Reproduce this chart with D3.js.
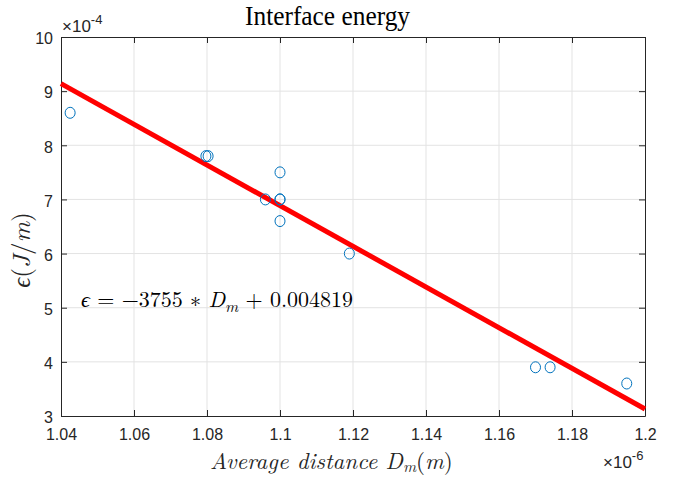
<!DOCTYPE html>
<html>
<head>
<meta charset="utf-8">
<script src="https://cdn.jsdelivr.net/npm/d3@7"></script>
<style>
  body { margin: 0; background: #fff; }
  svg { display: block; }
</style>
</head>
<body>
<script>
// data (x in 1e-6 m, y in 1e-4 J/m)
const distance = [1.0425, 1.0797, 1.0803, 1.1, 1.096, 1.1, 1.1, 1.1, 1.119, 1.17, 1.174, 1.195];
const energy   = [8.6,    7.8,    7.8,    7.5, 7.0,   7.0,  7.0, 6.6, 6.0,   3.9,  3.9,   3.6];
const xTicks = [1.04, 1.06, 1.08, 1.1, 1.12, 1.14, 1.16, 1.18, 1.2];
const yTicks = [3, 4, 5, 6, 7, 8, 9, 10];
const slope = -3755, intercept = 0.004819;
const fitX = [1.04, 1.2];

const width = 683, height = 477;
const margin = { left: 61, right: 38, top: 37, bottom: 61 };

const svg = d3.select("body").append("svg")
    .attr("width", width)
    .attr("height", height);

const x = d3.scaleLinear().domain([1.04, 1.2]).range([margin.left, width - margin.right]);
const y = d3.scaleLinear().domain([3, 10]).range([height - margin.bottom, margin.top]);

// grid
svg.append("g").selectAll("line").data(xTicks.slice(1, -1)).join("line")
    .attr("x1", d => x(d)).attr("x2", d => x(d))
    .attr("y1", y(3)).attr("y2", y(10))
    .attr("stroke", "#e3e3e3").attr("stroke-width", 1);
svg.append("g").selectAll("line").data(yTicks.slice(1, -1)).join("line")
    .attr("y1", d => y(d)).attr("y2", d => y(d))
    .attr("x1", x(1.04)).attr("x2", x(1.2))
    .attr("stroke", "#e3e3e3").attr("stroke-width", 1);

// axes with inward ticks
const tickFont = "Arial, 'Liberation Sans', sans-serif";
function styleAxis(g) {
    g.select(".domain").attr("stroke", "#262626");
    g.selectAll(".tick line").attr("stroke", "#262626");
    g.selectAll(".tick text").attr("fill", "#262626")
        .style("font-family", tickFont).style("font-size", "16px");
}
svg.append("g").attr("transform", `translate(0,${y(3)})`)
    .call(d3.axisBottom(x).tickValues(xTicks).tickFormat(d3.format("")).tickSizeInner(-6).tickSizeOuter(0).tickPadding(13))
    .call(styleAxis);
svg.append("g").attr("transform", `translate(0,${y(10)})`)
    .call(d3.axisTop(x).tickValues(xTicks).tickFormat("").tickSizeInner(-6).tickSizeOuter(0))
    .call(styleAxis);
svg.append("g").attr("transform", `translate(${x(1.04)},0)`)
    .call(d3.axisLeft(y).tickValues(yTicks).tickFormat(d3.format("")).tickSizeInner(-6).tickSizeOuter(0).tickPadding(8))
    .call(styleAxis)
    .call(g => g.selectAll(".tick text").attr("dy", "0.42em"));
svg.append("g").attr("transform", `translate(${x(1.2)},0)`)
    .call(d3.axisRight(y).tickValues(yTicks).tickFormat("").tickSizeInner(-6).tickSizeOuter(0))
    .call(styleAxis);

// fitted line
const fitLine = d3.line().x(d => x(d)).y(d => y((slope * d * 1e-6 + intercept) * 1e4));
svg.append("path").datum(fitX)
    .attr("d", fitLine)
    .attr("fill", "none").attr("stroke", "#ff0000").attr("stroke-width", 5);

// points
svg.append("g").selectAll("ellipse").data(distance).join("ellipse")
    .attr("cx", d => x(d))
    .attr("cy", (d, i) => y(energy[i]))
    .attr("rx", 5).attr("ry", 5.5)
    .attr("fill", "none").attr("stroke", "#0072bd").attr("stroke-width", 1);

// exponent labels
const expo = (tx, ty, p) => {
    const t = svg.append("text").attr("x", tx).attr("y", ty)
        .attr("fill", "#262626").style("font-family", tickFont).style("font-size", "17px");
    t.append("tspan").text("\u00d710");
    t.append("tspan").attr("dy", -8).style("font-size", "13px").text(p);
};
expo(62, 32, "-4");
expo(603, 468, "-6");

const serif = "'Latin Modern Roman', 'Liberation Serif', 'DejaVu Serif', serif";

// title
svg.append("text").attr("x", 245).attr("y", 25)
    .attr("textLength", 165).attr("lengthAdjust", "spacingAndGlyphs")
    .style("font-family", "'Liberation Serif', serif").style("font-size", "28px")
    .attr("fill", "#000").text("Interface energy");

// x label
const xl = svg.append("text").attr("x", 210).attr("y", 469)
    .style("font-family", serif).style("font-size", "23px").style("font-style", "italic")
    .attr("fill", "#262626");
xl.append("tspan").text("Average distance D");
xl.append("tspan").attr("dy", 3).style("font-size", "16px").text("m");
xl.append("tspan").attr("dy", -3).style("font-style", "normal").text("(");
xl.append("tspan").text("m");
xl.append("tspan").style("font-style", "normal").text(")");

// y label
const yl = svg.append("text").attr("transform", "translate(30,250) rotate(-90)").attr("text-anchor", "middle")
    .style("font-family", serif).style("font-size", "25px").style("font-style", "italic")
    .attr("fill", "#262626");
yl.append("tspan").text("\u03f5");
yl.append("tspan").style("font-style", "normal").text("(");
yl.append("tspan").text("J");
yl.append("tspan").style("font-style", "normal").text("/");
yl.append("tspan").text("m");
yl.append("tspan").style("font-style", "normal").text(")");

// equation
const eq = svg.append("text").attr("x", 81).attr("y", 307)
    .style("font-family", serif).style("font-size", "22px").attr("fill", "#000");
eq.append("tspan").style("font-style", "italic").text("\u03f5");
eq.append("tspan").text(" = \u22123755 \u2217 ");
eq.append("tspan").style("font-style", "italic").text("D");
eq.append("tspan").attr("dy", 5).style("font-size", "16px").style("font-style", "italic").text("m");
eq.append("tspan").attr("dy", -5).text(" + 0.004819");
</script>
</body>
</html>
